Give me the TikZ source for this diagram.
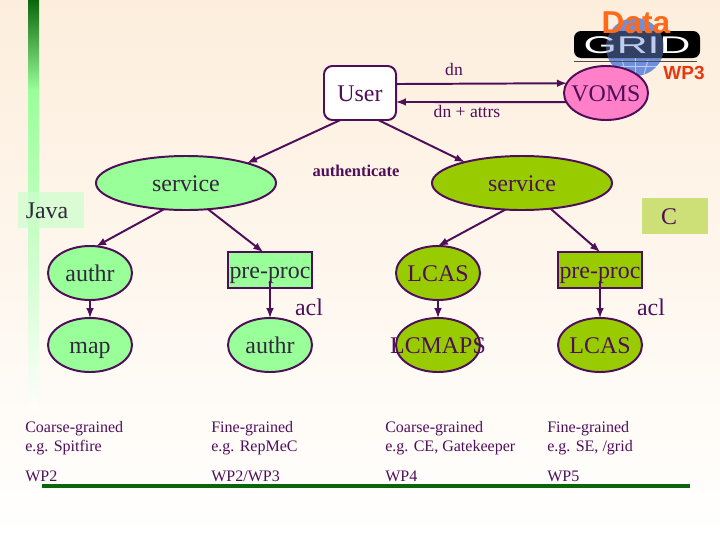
\documentclass[tikz,border=0pt]{standalone}
\usepackage{fontspec}
\setmainfont{Liberation Serif}
\newfontfamily\logofont{Liberation Sans}
\usetikzlibrary{shapes.geometric}

\definecolor{bgtop}{HTML}{FDEEDC}
\definecolor{linepurple}{HTML}{4F0F58}
\definecolor{javagreen}{HTML}{99FF99}
\definecolor{cgreen}{HTML}{99CC00}
\definecolor{boxc}{HTML}{CCE077}
\definecolor{vomspink}{HTML}{FF80C8}
\definecolor{barkgreen}{HTML}{0B660B}
\definecolor{darktext}{HTML}{33263F}
\definecolor{logoblue}{HTML}{6E8FDC}
\definecolor{logored}{HTML}{E8380F}
\definecolor{logoorange}{HTML}{FF6A1A}

\tikzset{
	nodetext/.style={font=\fontsize{17}{19}\selectfont,text height=15pt,text depth=3pt,inner sep=0pt,outer sep=0pt},
	oval/.style={ellipse,nodetext,draw=linepurple,line width=1.4pt,minimum width=2.1cm,minimum height=1.35cm},
	javaoval/.style={oval,fill=javagreen,text=darktext},
	coval/.style={oval,fill=cgreen,text=linepurple},
	wideoval/.style={minimum width=4.5cm},
	procbox/.style={rectangle,nodetext,draw=linepurple,line width=1.4pt,minimum width=2.1cm,minimum height=0.9cm},
	conn/.style={draw=linepurple,line width=1.4pt,-latex},
	smalltext/.style={text=linepurple,font=\fontsize{12.5}{14}\selectfont,inner sep=0pt},
	bigtext/.style={text=linepurple,font=\fontsize{17}{19}\selectfont,inner sep=0pt},
	bottomtext/.style={text=linepurple,font=\fontsize{11.4}{13.5}\selectfont,inner sep=0pt,anchor=base west,align=left},
}

\begin{document}
\begin{tikzpicture}[x=0.025cm,y=-0.025cm]
	% >>> background
	\useasboundingbox (0,0) rectangle (720,540);
	\shade[top color=bgtop,bottom color=white] (0,0) rectangle (720,540);
	\shade[top color=barkgreen,bottom color=javagreen] (28,0) rectangle (39,90);
	\shade[top color=javagreen,bottom color=white!90!bgtop] (28,90) rectangle (39,410);
	\fill[javagreen!50!white,opacity=0.7] (18,192) rectangle (84,228);
	\fill[boxc] (642,198) rectangle (708,234);
	\fill[barkgreen] (42,484) rectangle (690,488);
	% <<< background

	% >>> logo
	\fill[logoblue] (635,47) circle (29);
	\draw[white,line width=0.7pt] (635,47) -- (635,76);
	\draw[white,line width=0.7pt] (622,60) -- (626,74);
	\draw[white,line width=0.7pt] (648,60) -- (644,74);
	\draw[white,line width=0.7pt] (613,66) -- (657,66);
	\fill[black,rounded corners=5] (574,31) rectangle (700,58);
	\node[text=white,font=\logofont,inner sep=0pt] (logogrid) at (637,45) {\resizebox{76pt}{12pt}{GRID}};
	\fill[logoblue,opacity=0.45] (635,47) circle (29);
	\draw[black!70] (574,61) -- (697,61);
	\node[text=logoorange,font=\logofont\bfseries\fontsize{22.5}{23}\selectfont,inner sep=0pt] (logodata) at (636,23) {Data};
	\node[text=logored,font=\logofont\bfseries\fontsize{13.5}{14}\selectfont,inner sep=0pt] (logowp) at (684,73) {WP3};
	% <<< logo

	% >>> nodes
	\node[rectangle,nodetext,rounded corners=6pt,draw=linepurple,line width=1.4pt,fill=white,minimum width=1.8cm,minimum height=1.35cm,text=linepurple] (user) at (360,93) {User};
	\node[oval,fill=vomspink,text=linepurple] (voms) at (606,93) {\makebox[0pt]{VOMS}};
	\node[javaoval,wideoval] (serviceA) at (186,183) {service};
	\node[coval,wideoval] (serviceB) at (522,183) {service};

	\node[javaoval] (authrA) at (90,273) {authr};
	\node[javaoval] (mapA) at (90,345) {map};
	\node[procbox,fill=javagreen,text=darktext] (preprocA) at (270,270) {pre-proc};
	\node[javaoval] (authrB) at (270,345) {authr};

	\node[coval] (lcasA) at (438,273) {\makebox[0pt]{LCAS}};
	\node[coval] (lcmaps) at (438,345) {\makebox[0pt]{LCMAPS}};
	\node[procbox,fill=cgreen,text=linepurple] (preprocB) at (600,270) {pre-proc};
	\node[coval] (lcasB) at (600,345) {\makebox[0pt]{LCAS}};
	% <<< nodes

	% >>> connectors
	\draw[conn] (user.-126.5) -- (serviceA.18);
	\draw[conn] (user.-56) -- (serviceB.160.7);
	\draw[conn] (user.14) -- (voms.166.7);
	\draw[conn] (voms.193) -- (user.-14);
	\draw[conn] (serviceA.-130) -- (authrA.77.5);
	\draw[conn] (serviceA.-50) -- (preprocA.111);
	\draw[conn] (serviceB.-122) -- (lcasA.north);
	\draw[conn] (serviceB.-42) -- (preprocB.north);
	\draw[conn] (authrA) -- (mapA);
	\draw[conn,shorten <=-5pt] (preprocA) -- (authrB);
	\draw[conn] (lcasA) -- (lcmaps);
	\draw[conn,shorten <=-5pt] (preprocB) -- (lcasB);
	% <<< connectors

	% >>> labels
	\node[smalltext] (dnlabel) at (454,69) {dn};
	\node[smalltext] (attrslabel) at (467,111) {dn + attrs};
	\node[smalltext,font=\bfseries\fontsize{11.7}{14}\selectfont] (authlabel) at (356,171) {authenticate};
	\node[bigtext,text=darktext] (javalabel) at (47,211) {Java};
	\node[bigtext] (clabel) at (669,217) {C};
	\node[bigtext] (aclA) at (309,307) {acl};
	\node[bigtext] (aclB) at (651,307) {acl};

	\node[bottomtext] (textA) at (25,451) {Coarse-grained\\e.g. Spitfire};
	\node[bottomtext] (textB) at (211,451) {Fine-grained\\e.g. RepMeC};
	\node[bottomtext] (textC) at (385,451) {Coarse-grained\\e.g. CE, Gatekeeper};
	\node[bottomtext] (textD) at (547,451) {Fine-grained\\e.g. SE, /grid};
	\node[bottomtext] (wpA) at (25,481) {WP2};
	\node[bottomtext] (wpB) at (211,481) {WP2/WP3};
	\node[bottomtext] (wpC) at (385,481) {WP4};
	\node[bottomtext] (wpD) at (547,481) {WP5};
	% <<< labels
\end{tikzpicture}
\end{document}
